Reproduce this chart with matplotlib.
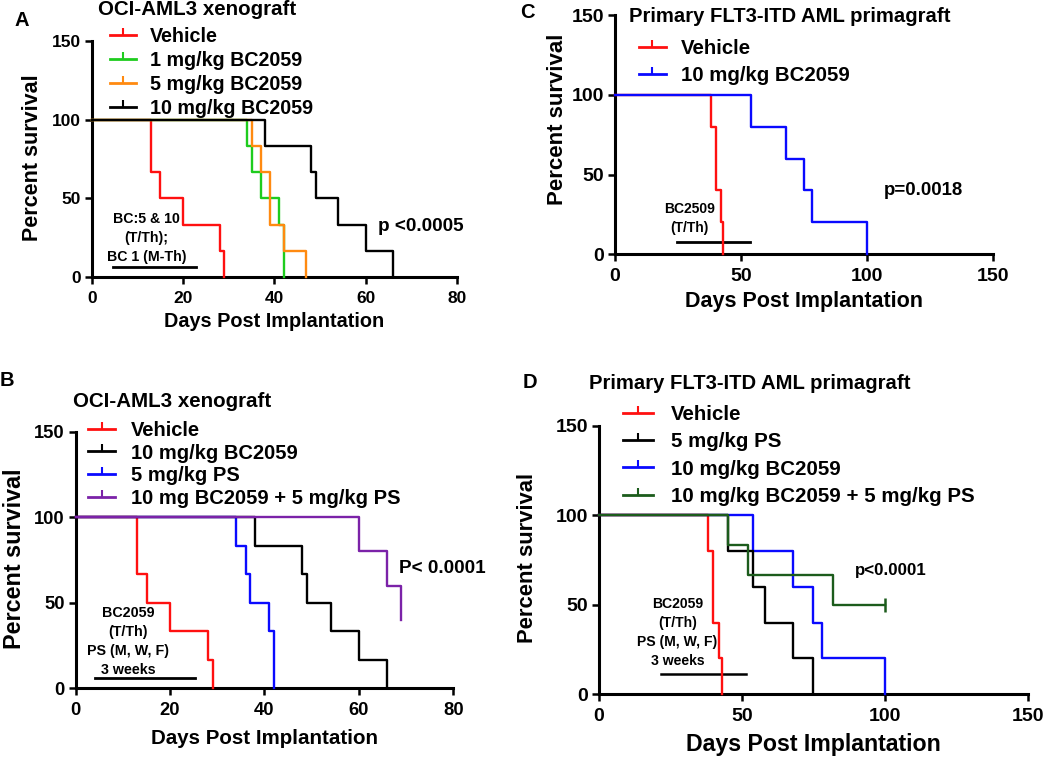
import matplotlib
matplotlib.use("Agg")
import matplotlib.pyplot as plt
from matplotlib.lines import Line2D

plt.rcParams['font.family'] = ['Liberation Sans', 'DejaVu Sans']
plt.rcParams['font.weight'] = 'bold'
plt.rcParams['axes.labelweight'] = 'bold'

# ---- Panel A: OCI-AML3 xenograft, BC2059 doses
a_veh_t = [0, 13, 15, 20, 28, 29]
a_veh_s = [100, 66.7, 50, 33.3, 16.7, 0]
a_1mg_t = [0, 34, 35, 37, 41, 42]
a_1mg_s = [100, 83.3, 66.7, 50, 33.3, 0]
a_5mg_t = [0, 35, 37, 39, 42, 47]
a_5mg_s = [100, 83.3, 66.7, 33.3, 16.7, 0]
a_10mg_t = [0, 38, 48, 49, 54, 60, 66]
a_10mg_s = [100, 83.3, 66.7, 50, 33.3, 16.7, 0]
a_labels = ["Vehicle", "1 mg/kg BC2059", "5 mg/kg BC2059", "10 mg/kg BC2059"]

# ---- Panel B: OCI-AML3 xenograft, BC2059 + PS
b_veh_t = [0, 13, 15, 20, 28, 29]
b_veh_s = [100, 66.7, 50, 33.3, 16.7, 0]
b_bc_t = [0, 38, 48, 49, 54, 60, 66]
b_bc_s = [100, 83.3, 66.7, 50, 33.3, 16.7, 0]
b_ps_t = [0, 34, 36, 37, 41, 42]
b_ps_s = [100, 83.3, 66.7, 50, 33.3, 0]
b_combo_t = [0, 60, 66, 69]
b_combo_s = [100, 80, 60, 40]
b_labels = ["Vehicle", "10 mg/kg BC2059", "5 mg/kg PS", "10 mg BC2059 + 5 mg/kg PS"]

# ---- Panel C: primary FLT3-ITD AML primagraft
c_veh_t = [0, 38, 40, 42, 43]
c_veh_s = [100, 80, 40, 20, 0]
c_bc_t = [0, 54, 68, 75, 78, 100]
c_bc_s = [100, 80, 60, 40, 20, 0]
c_labels = ["Vehicle", "10 mg/kg BC2059"]

# ---- Panel D: primary FLT3-ITD AML primagraft, combination
d_veh_t = [0, 38, 40, 42, 43]
d_veh_s = [100, 80, 40, 20, 0]
d_ps_t = [0, 45, 54, 58, 68, 75]
d_ps_s = [100, 80, 60, 40, 20, 0]
d_bc_t = [0, 54, 68, 75, 78, 100]
d_bc_s = [100, 80, 60, 40, 20, 0]
d_combo_t = [0, 45, 52, 82, 100]
d_combo_s = [100, 83.3, 66.7, 50, 50]
d_labels = ["Vehicle", "5 mg/kg PS", "10 mg/kg BC2059", "10 mg/kg BC2059 + 5 mg/kg PS"]

RED, GREEN, ORANGE, BLACK = "#ff1010", "#1ecc1e", "#ff8a10", "#000000"
BLUE, PURPLE, DKGREEN = "#0a0aff", "#7b22a8", "#1c5c1c"

fig = plt.figure(figsize=(10.5, 7.58), dpi=100)
axA = fig.add_axes([0.0876, 0.6342, 0.3476, 0.3121])
axC = fig.add_axes([0.5857, 0.6645, 0.3603, 0.3157])
axB = fig.add_axes([0.0721, 0.0920, 0.3596, 0.3385])
axD = fig.add_axes([0.5705, 0.0844, 0.4083, 0.3536])


def km(ax, t, s, color):
    ax.step(t, s, where="post", color=color, lw=1.7, clip_on=False, zorder=3)


def style(ax, xmax, xstep, tsize):
    ax.set_xlim(0, xmax)
    ax.set_ylim(0, 150)
    ax.set_xticks(range(0, xmax + 1, xstep))
    ax.set_yticks([0, 50, 100, 150])
    for s in ["top", "right"]:
        ax.spines[s].set_visible(False)
    for s in ["left", "bottom"]:
        ax.spines[s].set_linewidth(2.2)
    ax.tick_params(width=1.8, length=5, labelsize=tsize)
    ax.tick_params(axis="x", pad=5)
    ax.tick_params(axis="y", pad=3)
    for lab in ax.get_xticklabels() + ax.get_yticklabels():
        lab.set_fontweight("bold")


def labels(ax, xl, yl, xsize, ysize):
    ax.set_xlabel("Days Post Implantation", fontsize=xsize, va="center")
    ax.xaxis.set_label_coords(0.5, xl)
    ax.set_ylabel("Percent survival", fontsize=ysize, va="center")
    ax.yaxis.set_label_coords(yl[0], yl[1])


def legend(ax, colors, names, x, y, size, hl, tp, ls):
    hs = [Line2D([0], [0], color=c, lw=2, marker=2, markersize=5, mew=1.5)
          for c in colors]
    ax.legend(hs, names, loc="upper left", bbox_to_anchor=(x, y), frameon=False,
              borderpad=0, borderaxespad=0, handlelength=hl, handletextpad=tp,
              labelspacing=ls, numpoints=1, prop={"size": size, "weight": "bold"})


# Panel A
style(axA, 80, 20, 12.5)
km(axA, a_veh_t, a_veh_s, RED)
km(axA, a_1mg_t, a_1mg_s, GREEN)
km(axA, a_5mg_t, a_5mg_s, ORANGE)
km(axA, a_10mg_t, a_10mg_s, BLACK)
labels(axA, -0.189, (-0.162, 0.504), 14.3, 15.5)
legend(axA, [RED, GREEN, ORANGE, BLACK], a_labels, 0.049, 1.059, 14.2, 1.32, 0.71, 0.25)
axA.text(0.016, 1.134, "OCI-AML3 xenograft", transform=axA.transAxes,
         ha="left", va="center", fontsize=14.8)
axA.text(62.7, 32.5, "p <0.0005", ha="left", va="center", fontsize=13.6)
axA.plot([4.7, 22.9], [6.7, 6.7], color="k", lw=2)
axA.text(11.9, 25.1, "BC:5 & 10\n(T/Th);\nBC 1 (M-Th)", ha="center", va="center",
         fontsize=10.2, linespacing=1.45)

# Panel B
style(axB, 80, 20, 13.2)
km(axB, b_veh_t, b_veh_s, RED)
km(axB, b_ps_t, b_ps_s, BLUE)
km(axB, b_bc_t, b_bc_s, BLACK)
km(axB, b_combo_t, b_combo_s, PURPLE)
labels(axB, -0.194, (-0.161, 0.504), 14.8, 16.8)
legend(axB, [RED, BLACK, BLUE, PURPLE], b_labels, 0.033, 1.042, 14.5, 1.33, 0.78, 0.18)
axB.text(-0.006, 1.117, "OCI-AML3 xenograft", transform=axB.transAxes,
         ha="left", va="center", fontsize=14.8)
axB.text(68.5, 70, "P< 0.0001", ha="left", va="center", fontsize=13.6)
axB.plot([4.1, 25.3], [5.8, 5.8], color="k", lw=2)
axB.text(11.1, 27.3, "BC2059\n(T/Th)\nPS (M, W, F)\n3 weeks", ha="center",
         va="center", fontsize=10.3, linespacing=1.45)

# Panel C
style(axC, 150, 50, 14)
km(axC, c_veh_t, c_veh_s, RED)
km(axC, c_bc_t, c_bc_s, BLUE)
labels(axC, -0.199, (-0.153, 0.565), 15.5, 16)
legend(axC, [RED, BLUE], c_labels, 0.063, 0.901, 14.7, 1.31, 0.75, 0.40)
axC.text(0.038, 0.993, "Primary FLT3-ITD AML primagraft", transform=axC.transAxes,
         ha="left", va="center", fontsize=14.6)
axC.text(106.4, 40.3, "p=0.0018", ha="left", va="center", fontsize=13.4)
axC.plot([24.4, 53.5], [7.5, 7.5], color="k", lw=2)
axC.text(29.7, 22.3, "BC2509\n(T/Th)", ha="center", va="center",
         fontsize=10, linespacing=1.45)

# Panel D
style(axD, 150, 50, 14)
km(axD, d_veh_t, d_veh_s, RED)
km(axD, d_bc_t, d_bc_s, BLUE)
km(axD, d_ps_t, d_ps_s, BLACK)
km(axD, d_combo_t, d_combo_s, DKGREEN)
axD.plot(d_combo_t[-1], d_combo_s[-1], marker="|", color=DKGREEN, markersize=10,
         mew=1.8, clip_on=False, zorder=4)
labels(axD, -0.19, (-0.166, 0.507), 16.7, 15.8)
legend(axD, [RED, BLACK, BLUE, DKGREEN], d_labels, 0.056, 1.079, 14.8, 1.44, 0.89, 0.41)
axD.text(-0.023, 1.157, "Primary FLT3-ITD AML primagraft", transform=axD.transAxes,
         ha="left", va="center", fontsize=14.6)
axD.text(89.6, 69.4, "p<0.0001", ha="left", va="center", fontsize=12.2)
axD.plot([21.6, 51.3], [11.0, 11.0], color="k", lw=1.8)
axD.text(27.4, 34.3, "BC2059\n(T/Th)\nPS (M, W, F)\n3 weeks", ha="center",
         va="center", fontsize=10.1, linespacing=1.45)

# panel letters
for letter, px, py in [("A", 22, 20), ("C", 527, 13), ("B", 7, 381), ("D", 530, 383)]:
    fig.text(px / 1050, 1 - py / 758, letter, ha="center", va="center",
             fontsize=14.5, weight="bold")

fig.savefig("out.png", dpi=100)
